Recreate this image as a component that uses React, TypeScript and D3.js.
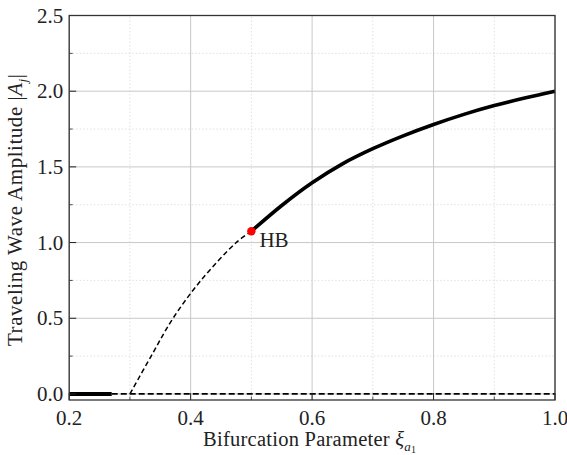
import React from "react";
import * as d3 from "d3";

const unstableX = [0.3, 0.335, 0.371, 0.417, 0.475, 0.5];
const unstableY = [0.0, 0.25, 0.5, 0.75, 1.0, 1.075];
const stableX = [0.5, 0.55, 0.6, 0.65, 0.7, 0.75, 0.8, 0.85, 0.9, 0.95, 1.0];
const stableY = [1.075, 1.245, 1.395, 1.52, 1.62, 1.705, 1.78, 1.847, 1.905, 1.955, 2.0];
const trivialStableX = [0.2, 0.27];
const trivialUnstableX = [0.27, 1.0];
const hbPoint = { x: 0.5, y: 1.075, label: "HB" };

const xMajor = [0.2, 0.4, 0.6, 0.8, 1.0];
const xMinor = [0.3, 0.5, 0.7, 0.9];
const yMajor = [0.0, 0.5, 1.0, 1.5, 2.0, 2.5];
const yMinor = [0.25, 0.75, 1.25, 1.75, 2.25];

const W = 567;
const H = 455;
const M = { left: 69.2, right: 12, top: 15.5, bottom: 55 };
const FONT = "Liberation Serif, DejaVu Serif, Times New Roman, serif";

export default function App() {
  const x = d3.scaleLinear().domain([0.2, 1.0]).range([M.left, W - M.right]);
  const y = d3.scaleLinear().domain([-0.04, 2.5]).range([H - M.bottom, M.top]);
  const line = d3
    .line<[number, number]>()
    .x((d) => x(d[0]))
    .y((d) => y(d[1]))
    .curve(d3.curveCatmullRom.alpha(0.5));
  const unstable = unstableX.map((v, i) => [v, unstableY[i]] as [number, number]);
  const stable = stableX.map((v, i) => [v, stableY[i]] as [number, number]);
  const x0 = M.left;
  const x1 = W - M.right;
  const y0 = H - M.bottom;
  const y1 = M.top;

  return (
    <svg width={W} height={H} style={{ position: "absolute", left: 0, top: 0 }}>
      <rect x={0} y={0} width={W} height={H} fill="#fff" />
      {xMinor.map((v) => (
        <line key={"xm" + v} x1={x(v)} x2={x(v)} y1={y0} y2={y1} stroke="#d9d9d9" strokeWidth={0.8} strokeDasharray="1.5,2" />
      ))}
      {yMinor.map((v) => (
        <line key={"ym" + v} x1={x0} x2={x1} y1={y(v)} y2={y(v)} stroke="#d9d9d9" strokeWidth={0.8} strokeDasharray="1.5,2" />
      ))}
      {xMajor.map((v) => (
        <line key={"xg" + v} x1={x(v)} x2={x(v)} y1={y0} y2={y1} stroke="#c8c8c8" strokeWidth={1} />
      ))}
      {yMajor.map((v) => (
        <line key={"yg" + v} x1={x0} x2={x1} y1={y(v)} y2={y(v)} stroke="#c8c8c8" strokeWidth={1} />
      ))}

      <line x1={x(trivialUnstableX[0])} x2={x(trivialUnstableX[1])} y1={y(0)} y2={y(0)} stroke="#000" strokeWidth={1.8} strokeDasharray="6,3" />
      <line x1={x(trivialStableX[0])} x2={x(trivialStableX[1])} y1={y(0)} y2={y(0)} stroke="#000" strokeWidth={4} />

      <path d={line(unstable) || ""} fill="none" stroke="#000" strokeWidth={1.5} strokeDasharray="5,3" />
      <path d={line(stable) || ""} fill="none" stroke="#000" strokeWidth={3.6} />

      <circle cx={x(hbPoint.x)} cy={y(hbPoint.y)} r={4.2} fill="#ff0000" />
      <text x={x(hbPoint.x) + 8} y={y(hbPoint.y) + 16} fontFamily={FONT} fontSize={21} fill="#222">
        {hbPoint.label}
      </text>

      {xMajor.map((v) => (
        <line key={"xt" + v} x1={x(v)} x2={x(v)} y1={y0} y2={y0 - 7} stroke="#222" strokeWidth={1} />
      ))}
      {xMinor.map((v) => (
        <line key={"xtm" + v} x1={x(v)} x2={x(v)} y1={y0} y2={y0 - 3.5} stroke="#222" strokeWidth={0.8} />
      ))}
      {yMajor.map((v) => (
        <line key={"yt" + v} x1={x0} x2={x0 + 7} y1={y(v)} y2={y(v)} stroke="#222" strokeWidth={1} />
      ))}
      {yMinor.map((v) => (
        <line key={"ytm" + v} x1={x0} x2={x0 + 3.5} y1={y(v)} y2={y(v)} stroke="#222" strokeWidth={0.8} />
      ))}

      <rect x={x0} y={y1} width={x1 - x0} height={y0 - y1} fill="none" stroke="#333" strokeWidth={1.3} />

      {xMajor.map((v) => (
        <text key={"xl" + v} x={x(v)} y={y0 + 25} textAnchor="middle" fontFamily={FONT} fontSize={21} fill="#222">
          {v.toFixed(1)}
        </text>
      ))}
      {yMajor.map((v) => (
        <text key={"yl" + v} x={x0 - 6} y={y(v)} dy="0.34em" textAnchor="end" fontFamily={FONT} fontSize={21} fill="#222">
          {v.toFixed(1)}
        </text>
      ))}

      <text x={203} y={446} fontFamily={FONT} fontSize={20.5} fill="#222" textLength={213} lengthAdjust="spacing">
        Bifurcation Parameter <tspan fontStyle="italic">ξ</tspan>
        <tspan fontStyle="italic" fontSize={13} dy={5}>a</tspan>
        <tspan fontSize={10} dy={2}>1</tspan>
      </text>
      <text
        transform={`translate(22, 210) rotate(-90)`}
        textAnchor="middle"
        fontFamily={FONT}
        fontSize={21}
        fill="#222"
        textLength={272}
        lengthAdjust="spacing"
      >
        Traveling Wave Amplitude |<tspan fontStyle="italic">A</tspan>
        <tspan fontStyle="italic" fontSize={13} dy={5}>j</tspan>
        <tspan dy={-5}>|</tspan>
      </text>
    </svg>
  );
}
